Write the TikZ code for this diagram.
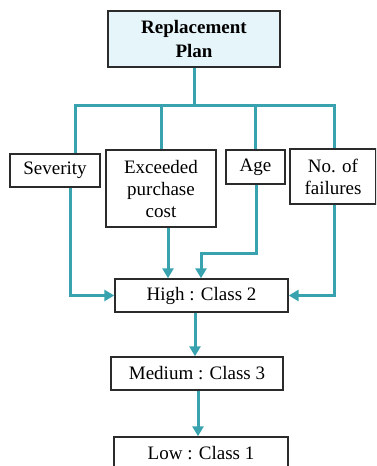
\documentclass[tikz,border=0pt]{standalone}
\usepackage{fontspec}
\setmainfont{LiberationSerif}[Extension=.ttf, UprightFont=*-Regular, BoldFont=*-Bold]
\usetikzlibrary{arrows.meta}
\definecolor{flow}{HTML}{38A3AF}
\definecolor{headfill}{HTML}{E6F5FA}
\definecolor{edge}{HTML}{2B2B2B}
\tikzset{
  box/.style={draw=edge, line width=1.4pt, fill=white, inner sep=0pt, align=center,
    font=\fontsize{19}{22}\selectfont},
  link/.style={draw=flow, line width=3pt},
  arrow/.style={link, -{Triangle[length=10pt,width=11pt]}},
}
\begin{document}
\begin{tikzpicture}[x=1pt,y=-1pt]
\useasboundingbox (0,0) rectangle (376,466);
\clip (0,0) rectangle (376,466);

% boxes
\node[box, fill=headfill, minimum width=172pt, minimum height=56pt,
      font=\fontsize{19}{24}\selectfont\bfseries] (plan) at (194,39) {Replacement\\Plan};
\node[box, minimum width=90pt, minimum height=33pt] (sev) at (55,170.5) {Severity};
\node[box, minimum width=110pt, minimum height=77pt] (exc) at (161,188.5) {Exceeded\\purchase\\cost};
\node[box, minimum width=59pt, minimum height=34pt] (age) at (255.5,167) {Age};
\node[box, minimum width=86pt, minimum height=55pt] (nof) at (333,176.5) {No. of\\failures};
\node[box, minimum width=173pt, minimum height=33pt] (high) at (201.5,295.5) {High : Class 2};
\node[box, minimum width=172pt, minimum height=33pt] (med) at (197,373.5) {Medium : Class 3};
\node[box, minimum width=174pt, minimum height=33pt] (low) at (201,453.5) {Low : Class 1};

% distribution bus below the plan
\coordinate (busL) at (75,105);
\coordinate (busR) at (334,105);
\draw[link] (plan.south) -- (plan.south |- busL);
\draw[link, line cap=rect] (busL) -- (busR);
\draw[link] (busL) -- (busL |- sev.north);
\draw[link] (161,105) -- (exc.north);
\draw[link] (255,105) -- (255,0 |- age.north);
\draw[link] (busR) -- (busR |- nof.north);

% criteria into the high class
\coordinate (sevout) at (70,0);
\draw[arrow] (sevout |- sev.south) |- (high.west);
\coordinate (excout) at (168,0);
\draw[arrow] (excout |- exc.south) -- (excout |- high.north);
\coordinate (agebend) at (256,253);
\coordinate (agein) at (201,0);
\draw[arrow] (agebend |- age.south) -- (agebend) -| (agein |- high.north);
\coordinate (nofout) at (334,0);
\draw[arrow] (nofout |- nof.south) |- (high.east);

% class chain
\coordinate (hm) at (195,0);
\draw[arrow] (hm |- high.south) -- (hm |- med.north);
\coordinate (ml) at (198,0);
\draw[arrow] (ml |- med.south) -- (ml |- low.north);
\end{tikzpicture}
\end{document}
